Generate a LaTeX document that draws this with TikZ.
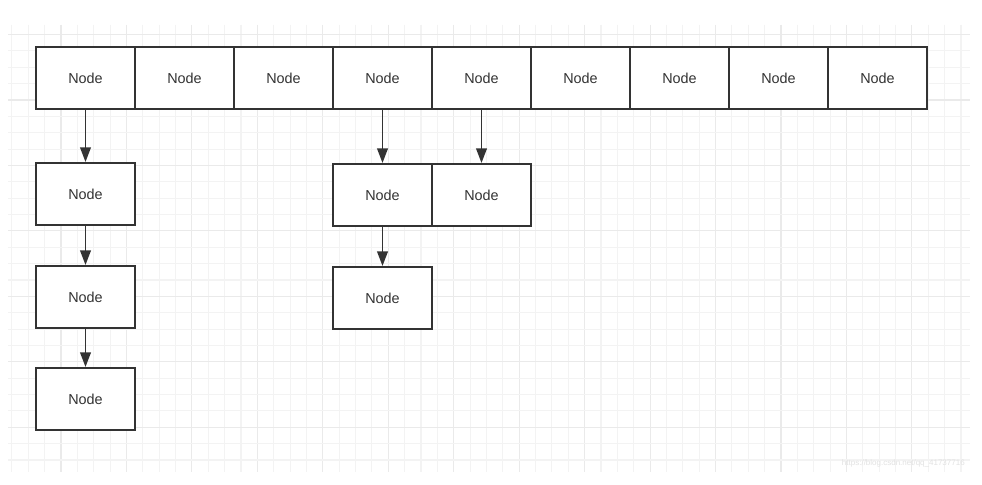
\documentclass[tikz,border=0pt]{standalone}
\usepackage{fontspec}
\setmainfont{Liberation Sans}
\usetikzlibrary{arrows.meta}
\definecolor{ink}{HTML}{333333}
\definecolor{gridminor}{HTML}{F3F3F3}
\definecolor{gridmajor}{HTML}{EAEAEA}
\definecolor{wmark}{HTML}{E2E2E2}
\begin{document}
\begin{tikzpicture}[x=0.75pt,y=-0.75pt,
  nodebox/.style={draw=ink, line width=1.5pt, fill=white, minimum width=74.25pt,
    minimum height=46.5pt, inner sep=0pt, text=ink, font=\fontsize{10.8}{12}\selectfont},
  link/.style={draw=ink, line width=1.4pt, -{Triangle[length=11pt,width=8pt]}}]
\useasboundingbox (0,0) rectangle (982,485);
\fill[white] (0,0) rectangle (982,485);
% grid
\begin{scope}
\clip (8,25) rectangle (970,472);
\foreach \k in {-3,...,55} {
  \pgfmathtruncatemacro{\m}{mod(\k+100,4)}
  \ifnum\m=0
    \draw[gridmajor, line width=0.8pt] ({61+16.364*\k},25) -- ({61+16.364*\k},472);
  \else
    \draw[gridminor, line width=0.8pt] ({61+16.364*\k},25) -- ({61+16.364*\k},472);
  \fi
}
\foreach \k in {-4,...,22} {
  \pgfmathtruncatemacro{\m}{mod(\k+100,4)}
  \ifnum\m=0
    \draw[gridmajor, line width=0.8pt] (8,{100+16.364*\k}) -- (970,{100+16.364*\k});
  \else
    \draw[gridminor, line width=0.8pt] (8,{100+16.364*\k}) -- (970,{100+16.364*\k});
  \fi
}
\end{scope}
% top row
\foreach \i in {0,...,8} {
  \node[nodebox] (t\i) at ({85.5+99*\i},78) {Node};
}
% left column
\node[nodebox] (a1) at (85.5,194) {Node};
\node[nodebox] (a2) at (85.5,297) {Node};
\node[nodebox] (a3) at (85.5,399) {Node};
% middle group
\node[nodebox] (b1) at (382.5,195) {Node};
\node[nodebox] (c1) at (481.5,195) {Node};
\node[nodebox] (b2) at (382.5,298) {Node};
% connectors
\draw[link] (t0.south) -- (a1.north);
\draw[link] (a1.south) -- (a2.north);
\draw[link] (a2.south) -- (a3.north);
\draw[link] (t3.south) -- (b1.north);
\draw[link] (t4.south) -- (c1.north);
\draw[link] (b1.south) -- (b2.north);
% watermark
\node[text=wmark, font=\fontsize{6}{7}\selectfont, anchor=east, inner sep=0pt] (wm) at (965,463) {https://blog.csdn.net/qq\_41737716};
\end{tikzpicture}
\end{document}
